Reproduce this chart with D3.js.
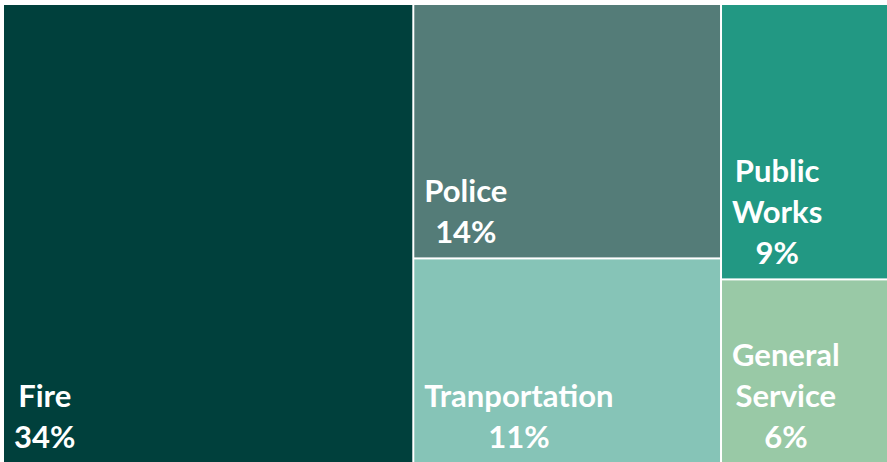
<!DOCTYPE html>
<html>
<head>
<meta charset="utf-8">
<script src="https://cdn.jsdelivr.net/npm/d3@7"></script>
<style>
  html, body { margin: 0; padding: 0; background: #ffffff; }
  svg { display: block; }
</style>
</head>
<body>
<svg id="chart" width="887" height="462"></svg>
<script>
// ---- data ----
const categories = ["Fire", "Police", "Tranportation", "Public Works", "General Service"];
const values     = [34.4, 14.3, 11.5, 8.4, 5.6];
const pctLabels  = ["34%", "14%", "11%", "9%", "6%"];
const groups     = [0, 1, 1, 2, 2];   // column each category sits in
const colors     = ["#00403c", "#547c78", "#86c4b7", "#229883", "#99c9a6"];

// ---- layout ----
const W = 887, H = 462;
const margin = { left: 4, top: 5, right: 0, bottom: 0 };
const svg = d3.select("#chart");

const groupIds = Array.from(new Set(groups));
const rootData = {
  name: "root",
  children: groupIds.map(g => ({
    name: "g" + g,
    children: categories
      .map((c, i) => ({ name: c, value: values[i], pct: pctLabels[i], color: colors[i], g: groups[i] }))
      .filter(d => d.g === g)
  }))
};

const root = d3.hierarchy(rootData).sum(d => d.value || 0);
d3.treemap()
  .tile(d3.treemapSliceDice)
  .size([W - margin.left - margin.right, H - margin.top - margin.bottom])
  .paddingInner(2)
  .round(false)(root);

const g = svg.append("g").attr("transform", `translate(${margin.left},${margin.top})`);

const leaves = g.selectAll("g.cell").data(root.leaves()).join("g").attr("class", "cell");

leaves.append("rect")
  .attr("x", d => d.x0)
  .attr("y", d => d.y0)
  .attr("width", d => d.x1 - d.x0)
  .attr("height", d => d.y1 - d.y0)
  .attr("fill", d => d.data.color);

const fontSize = 31;
const lineH = 41;
const font = "Lato, 'Open Sans', sans-serif";

leaves.each(function(d) {
  const cell = d3.select(this);
  const maxW = (d.x1 - d.x0) - 20;
  const meas = svg.append("text").attr("font-family", font).attr("font-size", fontSize).attr("font-weight", 700);
  const measure = s => { meas.text(s); return meas.node().getComputedTextLength(); };
  const words = d.data.name.split(" ");
  const lines = [];
  let cur = "";
  words.forEach(w => {
    const t = cur ? cur + " " + w : w;
    if (cur && measure(t) > maxW) { lines.push(cur); cur = w; } else { cur = t; }
  });
  if (cur) lines.push(cur);
  lines.push(d.data.pct);
  const blockW = d3.max(lines, measure);
  meas.remove();

  const cx = d.x0 + 10 + blockW / 2;
  const lastBase = d.y1 - 14;
  const txt = cell.append("text")
    .attr("font-family", font)
    .attr("font-size", fontSize)
    .attr("font-weight", 700)
    .attr("fill", "#ffffff")
    .attr("text-anchor", "middle");
  lines.forEach((ln, i) => {
    txt.append("tspan")
      .attr("x", cx)
      .attr("y", lastBase - (lines.length - 1 - i) * lineH)
      .text(ln);
  });
});
</script>
</body>
</html>
